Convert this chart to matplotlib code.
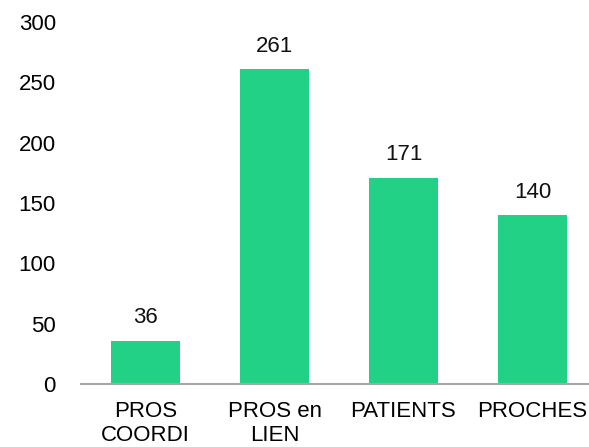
import matplotlib
matplotlib.use("Agg")
import matplotlib.pyplot as plt

categories = ["PROS\nCOORDI", "PROS en\nLIEN", "PATIENTS", "PROCHES"]
values = [36, 261, 171, 140]
yticks = [0, 50, 100, 150, 200, 250, 300]

plt.rcParams['font.family'] = ['Liberation Sans', 'DejaVu Sans']
fig = plt.figure(figsize=(5.89, 4.47), dpi=100)
ax = fig.add_axes([81/589, 1-384/447, 1-81/589, (384-22)/447])
x = list(range(len(categories)))
ax.bar(x, values, width=0.53, color='#23D186')
for xi, v in zip(x, values):
    ax.annotate(str(v), (xi, v), xytext=(0, 9), textcoords='offset points',
                ha='center', va='bottom', fontsize=16, color='#111111')
ax.set_xlim(-0.5, -0.5 + (589-81)/129)
ax.set_ylim(0, 300)
ax.set_yticks(yticks)
ax.set_yticklabels([str(t) for t in yticks], fontsize=16)
ax.set_xticks(x)
ax.set_xticklabels(categories, fontsize=16, linespacing=1.2)
ax.tick_params(axis='y', length=0, pad=18)
ax.tick_params(axis='x', length=0, pad=12)
for s in ['top', 'right', 'left']:
    ax.spines[s].set_visible(False)
ax.spines['bottom'].set_color('#A6A6A6')
ax.spines['bottom'].set_linewidth(1.5)
fig.savefig("out.png", dpi=100)
